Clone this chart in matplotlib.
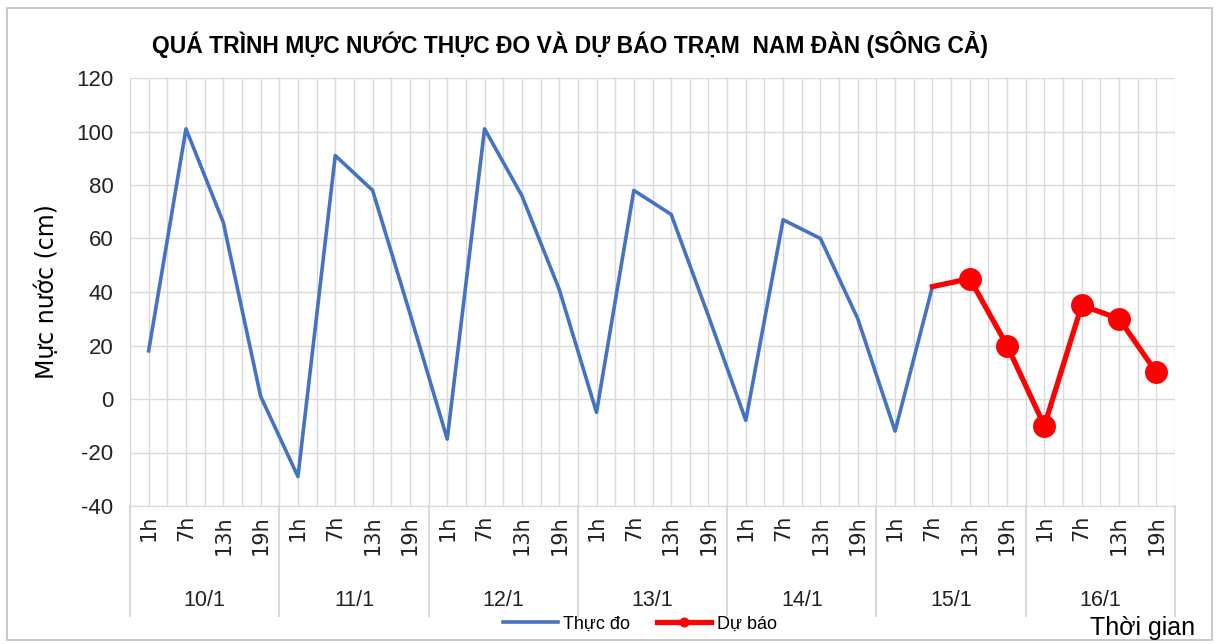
import matplotlib
matplotlib.use('Agg')
import matplotlib.pyplot as plt
from matplotlib.patches import Rectangle
from matplotlib.transforms import blended_transform_factory

days = ['10/1', '11/1', '12/1', '13/1', '14/1', '15/1', '16/1']
hours = ['1h', '7h', '13h', '19h']
thuc_do = [18, 101, 66, 1, -29, 91, 78, 32, -15, 101, 76, 41,
           -5, 78, 69, 31, -8, 67, 60, 30, -12, 42]
du_bao_start = 21
du_bao = [42, 45, 20, -10, 35, 30, 10]

plt.rcParams['font.family'] = ['Liberation Sans', 'DejaVu Sans']
plt.rcParams['axes.unicode_minus'] = False
fig = plt.figure(figsize=(12.19, 6.44), dpi=100)
ax = fig.add_axes([130/1219, 1-506/644, 1045/1219, 428/644])

n = len(days) * len(hours)
x_td = list(range(len(thuc_do)))
x_db = list(range(du_bao_start, du_bao_start + len(du_bao)))

grid_c = '#D9D9D9'
for y in range(-40, 121, 20):
    ax.axhline(y, color=grid_c, lw=1, zorder=0)
for i in range(2 * n + 1):
    ax.axvline(-0.5 + i * 0.5, color=grid_c, lw=1, zorder=0)

ax.plot(x_td, thuc_do, color='#4472C4', lw=2.6, label='Thực đo', zorder=3)
ax.plot(x_db, du_bao, color='#FF0000', lw=3.8, marker='o', markersize=15.5,
        markevery=list(range(1, len(du_bao))), label='Dự báo', zorder=4)

ax.set_xlim(-0.5, n - 0.5)
ax.set_ylim(-40, 120)
ax.set_yticks(range(-40, 121, 20))
ax.tick_params(axis='y', length=0, labelsize=16, pad=12, labelcolor='#222222')
ax.set_xticks([])
for s in ax.spines.values():
    s.set_visible(False)
ax.spines['bottom'].set_visible(True)
ax.spines['bottom'].set_color(grid_c)

# multi-level category axis
tr = blended_transform_factory(ax.transData, fig.transFigure)
for d in range(len(days)):
    for h in range(len(hours)):
        ax.text(d * 4 + h, 1 - 515/644, hours[h], rotation=90, ha='center', va='top',
                fontsize=15, family='DejaVu Sans', transform=tr, color='#222222')
    ax.text(d * 4 + 1.5, 1 - 600/644, days[d], ha='center', va='center',
            fontsize=15.5, transform=tr, color='#222222')
for d in range(len(days) + 1):
    ax.plot([d * 4 - 0.5] * 2, [1 - 506/644, 1 - 616/644], color=grid_c, lw=1.5,
            transform=tr, clip_on=False)

ax.set_ylabel('Mực nước (cm)', fontsize=17, labelpad=12, family='DejaVu Sans')
fig.text(570/1219, 1 - 44/644, 'QUÁ TRÌNH MỰC NƯỚC THỰC ĐO VÀ DỰ BÁO TRẠM  NAM ĐÀN (SÔNG CẢ)',
         ha='center', va='center', fontsize=16.5, fontweight='bold')
fig.text(1195/1219, 1 - 628/644, 'Thời gian', ha='right', va='center', fontsize=18)

fig.legend(loc='center', bbox_to_anchor=(640/1219, 1 - 624/644), ncol=2, frameon=False,
           fontsize=13, handlelength=3, markerscale=0.4, columnspacing=1.5, handletextpad=0.3)

fig.patches.append(Rectangle((7/1219, 4/644), 1205/1219, 632/644, transform=fig.transFigure,
                             fill=False, edgecolor='#BFBFBF', lw=1.2))

fig.savefig('out.png', dpi=100)
